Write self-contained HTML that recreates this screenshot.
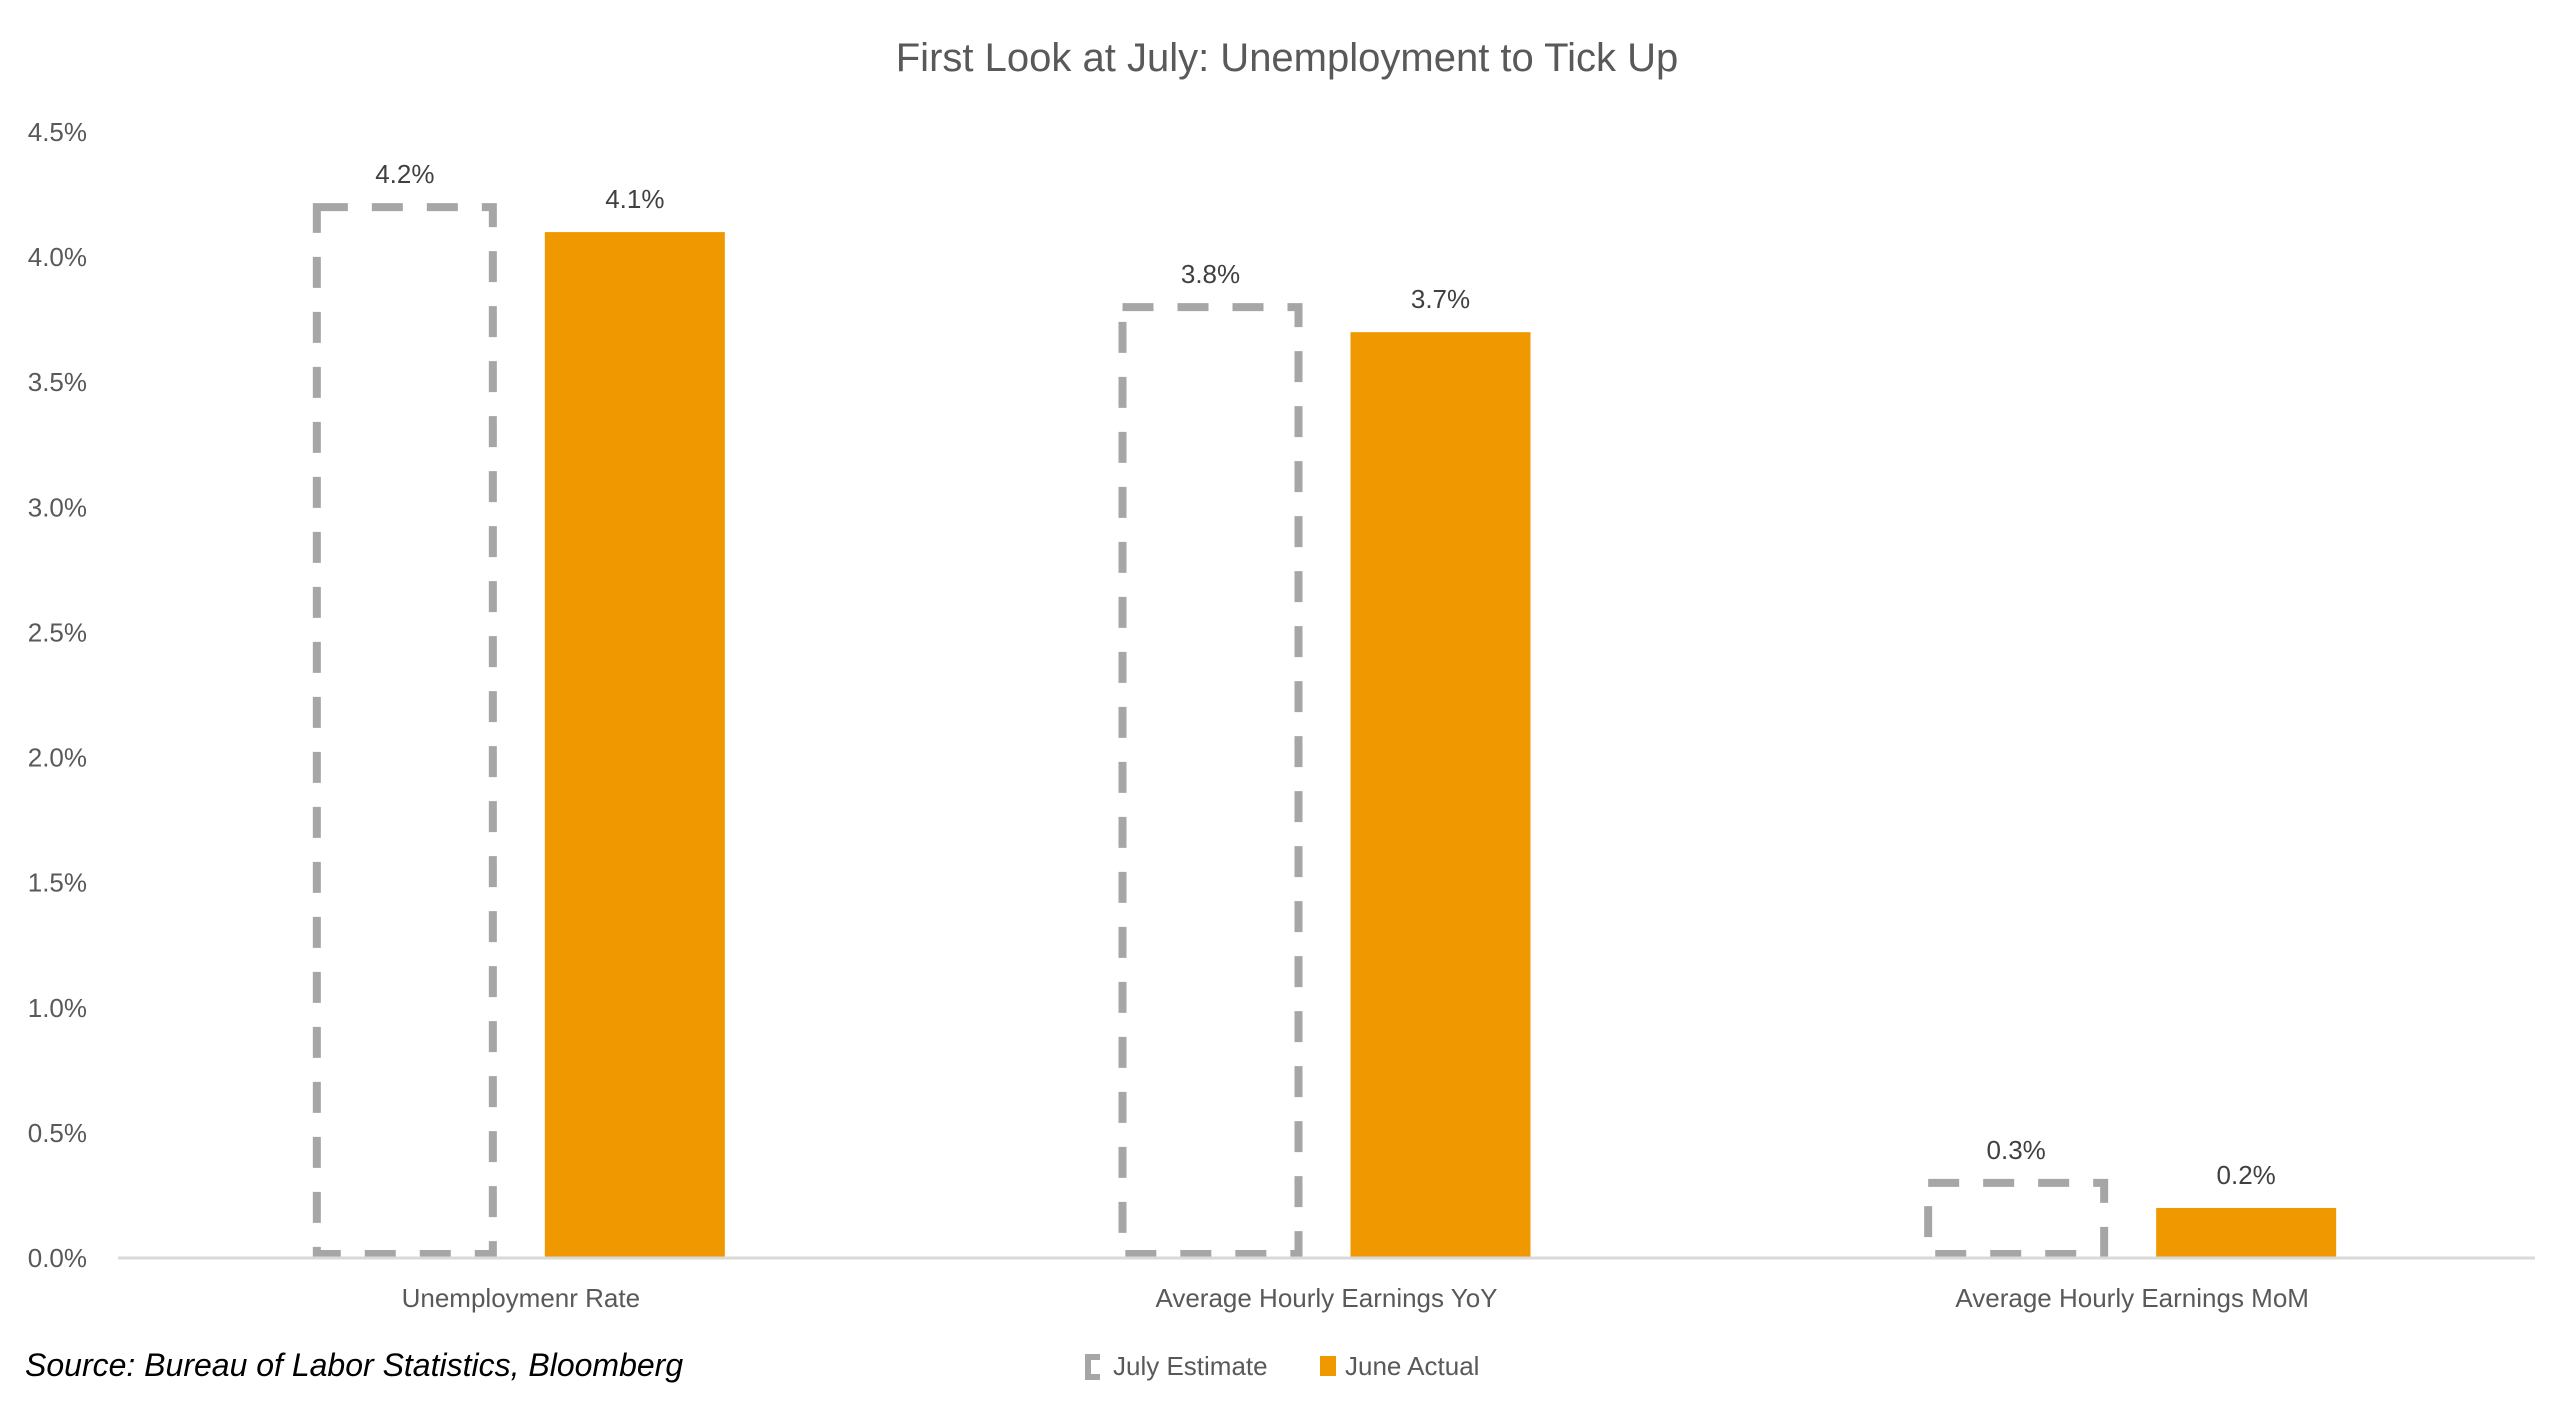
<!DOCTYPE html>
<html><head><meta charset="utf-8"><style>
html,body{margin:0;padding:0;background:#fff;}
svg{display:block;font-family:"Liberation Sans",sans-serif;}
</style></head><body>
<svg id="chart" width="2560" height="1411" viewBox="0 0 2560 1411">
<text x="1287" y="71" text-anchor="middle" font-size="40" fill="#595959">First Look at July: Unemployment to Tick Up</text>
<g id="yaxis"></g>
<g id="bars"></g>
<line x1="118" y1="1258" x2="2535" y2="1258" stroke="#d9d9d9" stroke-width="3"/>
<g id="xaxis"></g>
<text x="25" y="1376" font-size="32" font-style="italic" fill="#000">Source: Bureau of Labor Statistics, Bloomberg</text>
<g>
<g>
<path d="M1100 1357 L1088 1357 L1088 1377 L1100 1377" fill="none" stroke="#a6a6a6" stroke-width="6"/>
<text x="1113" y="1375" font-size="26" fill="#595959">July Estimate</text>
</g>
<g>
<rect x="1320" y="1356" width="16" height="20" fill="#f09800"/>
<text x="1345" y="1375" font-size="26" fill="#595959">June Actual</text>
</g>
</g>
</svg>
<script>
const categories = ["Unemploymenr Rate", "Average Hourly Earnings YoY", "Average Hourly Earnings MoM"];
const julyEstimate = [4.2, 3.8, 0.3];
const juneActual = [4.1, 3.7, 0.2];
const yTicks = [0, 0.5, 1.0, 1.5, 2.0, 2.5, 3.0, 3.5, 4.0, 4.5];

const NS = "http://www.w3.org/2000/svg";
const plotL = 118, plotR = 2535, y0 = 1258, yTop = 132, yMax = 4.5;
const yScale = v => y0 - (v / yMax) * (y0 - yTop);
const groupW = (plotR - plotL) / categories.length;
const xCenter = i => plotL + groupW * (i + 0.5);
function mk(tag, attrs, parent) {
  const e = document.createElementNS(NS, tag);
  for (const k in attrs) e.setAttribute(k, attrs[k]);
  parent.appendChild(e);
  return e;
}
const yaxis = document.getElementById('yaxis');
yTicks.forEach(t => {
  const tx = mk('text', {x: 87, y: yScale(t) + 9, 'text-anchor': 'end', 'font-size': 26, fill: '#595959'}, yaxis);
  
  
  tx.textContent = t.toFixed(1) + '%';
});
const bars = document.getElementById('bars');
const xaxis = document.getElementById('xaxis');
categories.forEach((c, i) => {
  const cx = xCenter(i);
  const yj = yScale(julyEstimate[i]);
  const d = mk('rect', {x: cx - 204, y: yj, width: 176, height: y0 - yj - 4, fill: 'none', stroke: '#a6a6a6', 'stroke-width': 8, 'stroke-dasharray': '31 24'}, bars);
  
  
  const l1 = mk('text', {x: cx - 116, y: yj - 24, 'text-anchor': 'middle', 'font-size': 26, fill: '#404040'}, bars);
  
  
  l1.textContent = julyEstimate[i].toFixed(1) + '%';
  const ya = yScale(juneActual[i]);
  const s = mk('rect', {x: cx + 24, y: ya, width: 180, height: y0 - ya, fill: '#f09800'}, bars);
  
  
  const l2 = mk('text', {x: cx + 114, y: ya - 24, 'text-anchor': 'middle', 'font-size': 26, fill: '#404040'}, bars);
  
  
  l2.textContent = juneActual[i].toFixed(1) + '%';
  const cl = mk('text', {x: cx, y: 1307, 'text-anchor': 'middle', 'font-size': 26, fill: '#595959'}, xaxis);
  
  
  cl.textContent = c;
});
</script>
</body></html>
